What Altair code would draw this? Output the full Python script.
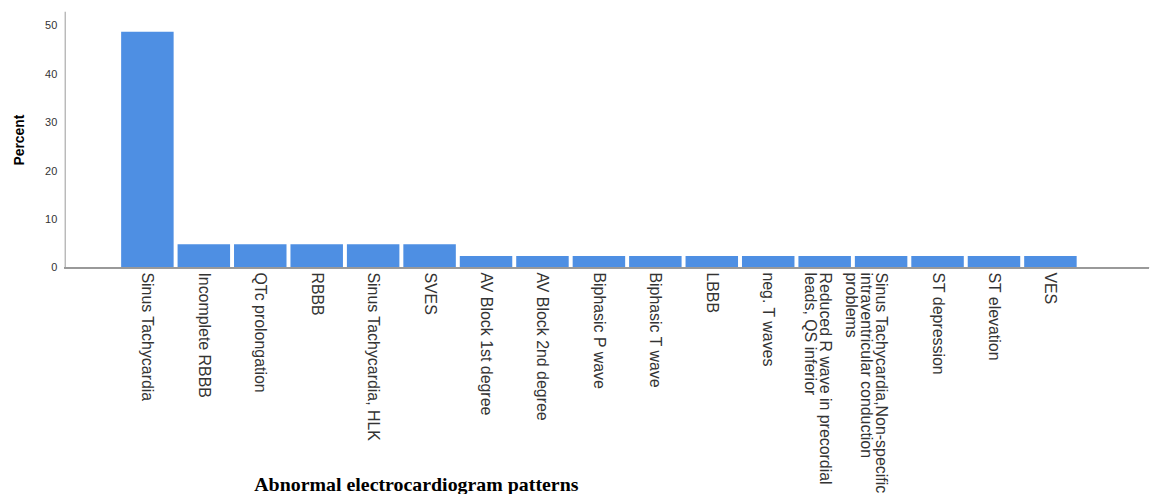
import altair as alt
import pandas as pd

categories = [
    "Sinus Tachycardia", "Incomplete RBBB", "QTc prolongation", "RBBB",
    "Sinus Tachycardia, HLK", "SVES", "AV Block 1st degree", "AV Block 2nd degree",
    "Biphasic P wave", "Biphasic T wave", "LBBB", "neg. T waves",
    "Reduced R wave in precordial|leads, QS inferior",
    "Sinus Tachycardia,Non-specific|intraventricular conduction|problems",
    "ST depression", "ST elevation", "VES",
]
percent = [48.78, 4.88, 4.88, 4.88, 4.88, 4.88, 2.44, 2.44, 2.44, 2.44, 2.44,
           2.44, 2.44, 2.44, 2.44, 2.44, 2.44]

df = pd.DataFrame({"cat": categories, "pct": percent})

bars = alt.Chart(df).mark_bar(color="#4e8fe3").encode(
    x=alt.X("cat:N", sort=categories,
            scale=alt.Scale(paddingInner=0.07, paddingOuter=1),
            axis=alt.Axis(
                title="Abnormal electrocardiogram patterns",
                titleFont="Liberation Serif", titleFontSize=20, titleFontWeight="bold",
                titleColor="black", titleX=353, titleY=208, titleAnchor="middle",
                labelAngle=90, labelAlign="left", labelBaseline="middle",
                labelFont="Liberation Sans", labelFontSize=16, labelLineHeight=15,
                labelColor="#333", labelPadding=4, labelLimit=400,
                labelExpr="split(datum.label, '|')",
                ticks=False, domain=False, labelOverlap=False,
            )),
    y=alt.Y("pct:Q", scale=alt.Scale(domain=[0, 53], nice=False),
            axis=alt.Axis(
                title="Percent", values=[0, 10, 20, 30, 40, 50],
                titleFont="Liberation Sans", titleFontSize=14, titleFontWeight="bold",
                titleColor="black", titlePadding=18,
                labelFont="Liberation Sans", labelFontSize=11, labelColor="#333",
                labelPadding=8, ticks=False, grid=False, domainColor="#999",
            )),
)

baseline = alt.Chart(df).mark_rule(color="#999").encode(
    x=alt.value(0), x2=alt.value(1090), y=alt.value(258)
)

chart = alt.layer(bars, baseline).properties(
    width=1074, height=258,
    autosize=alt.AutoSizeParams(type="none"),
    padding={"left": 57, "top": 2, "right": 21, "bottom": 226},
).configure_view(stroke=None)

chart.save("out.html", embed_options={"renderer": "svg", "actions": False})
